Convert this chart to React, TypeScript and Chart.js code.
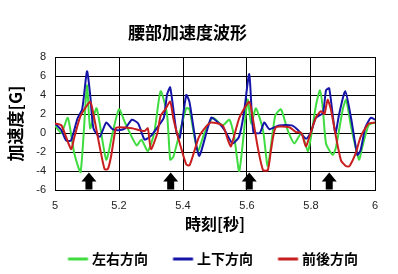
import React, { useEffect, useRef } from "react";
import { Chart, registerables } from "chart.js";

Chart.register(...registerables);

const chartTitle = "腰部加速度波形";
const xTitle = "時刻[秒]";
const yTitle = "加速度[G]";
const seriesNames = ["左右方向", "上下方向", "前後方向"];
const seriesColors = ["#3fdc3f", "#1414a8", "#c81e1e"];

// 左右方向 (green)
const greenT = [5.00, 5.02, 5.04, 5.06, 5.08, 5.10, 5.11, 5.13, 5.16, 5.18, 5.20, 5.22, 5.255, 5.27, 5.29, 5.31, 5.33, 5.35, 5.36, 5.37, 5.41, 5.42, 5.446, 5.467, 5.493, 5.524, 5.545, 5.56, 5.576, 5.602, 5.613, 5.628, 5.65, 5.665, 5.688, 5.706, 5.727, 5.748, 5.77, 5.79, 5.80, 5.816, 5.828, 5.837, 5.847, 5.868, 5.878, 5.90, 5.91, 5.925, 5.95, 5.96, 5.98, 6.00];
const greenV = [0.8, 0.0, 1.6, -2.1, -4.1, 5.0, 0.5, 2.6, -2.8, 0.0, 2.5, 1.0, -1.3, -0.7, -1.9, 0.0, 4.4, 2.0, -2.8, -2.5, 2.6, 2.5, -1.9, 0.0, 1.6, 0.8, 1.4, -0.4, -4.0, 3.5, 1.0, 2.6, 0.3, -3.5, 1.8, 2.5, 0.3, -1.1, 0.0, -1.9, -0.4, 3.0, 4.5, 2.6, -1.1, -2.3, -1.5, 2.6, 3.5, 0.7, -2.8, -1.5, 0.8, 1.1];

// 上下方向 (blue)
const blueT = [5.00, 5.02, 5.035, 5.05, 5.07, 5.085, 5.10, 5.11, 5.12, 5.14, 5.16, 5.18, 5.20, 5.22, 5.24, 5.26, 5.28, 5.30, 5.32, 5.34, 5.35, 5.36, 5.38, 5.39, 5.41, 5.42, 5.45, 5.488, 5.51, 5.53, 5.555, 5.575, 5.59, 5.607, 5.62, 5.64, 5.654, 5.67, 5.70, 5.74, 5.76, 5.785, 5.80, 5.815, 5.837, 5.847, 5.857, 5.876, 5.888, 5.907, 5.925, 5.945, 5.955, 5.97, 5.987, 6.00];
const blueV = [1.0, 0.3, -0.8, -0.8, 1.5, 2.5, 6.5, 4.0, 0.5, -0.4, 1.1, 0.4, 0.3, 0.5, 1.4, 1.0, -0.7, -0.3, 0.6, 1.6, 4.0, 4.8, 0.0, -0.5, 4.0, 3.3, -2.4, 1.6, 1.1, 0.3, -1.1, -0.4, 2.0, 6.2, 0.1, 0.0, 1.1, 0.4, 0.8, 0.8, 0.3, -0.6, 0.1, 1.6, 2.1, 4.5, 4.7, 0.0, 2.0, 4.4, 1.6, -2.3, -1.8, 0.6, 1.6, 1.4];

// 前後方向 (red)
const redT = [5.00, 5.02, 5.05, 5.06, 5.08, 5.11, 5.12, 5.14, 5.155, 5.165, 5.175, 5.19, 5.20, 5.24, 5.28, 5.29, 5.30, 5.32, 5.33, 5.345, 5.36, 5.37, 5.385, 5.41, 5.42, 5.43, 5.45, 5.47, 5.488, 5.524, 5.54, 5.55, 5.576, 5.607, 5.617, 5.633, 5.65, 5.665, 5.675, 5.69, 5.732, 5.753, 5.77, 5.784, 5.795, 5.815, 5.831, 5.842, 5.852, 5.862, 5.878, 5.894, 5.91, 5.92, 5.94, 5.955, 5.98, 6.00];
const redV = [1.0, 0.8, -1.7, -0.5, 1.8, 3.3, 2.0, -1.5, -3.8, -3.8, -2.5, 0.5, 0.6, 0.5, 0.2, 0.5, -1.7, 0.0, 1.8, 2.5, 3.3, 1.5, -0.5, -3.3, -3.4, -2.5, -0.4, 0.6, 1.1, 0.8, -0.7, -1.4, 1.6, 3.3, 1.8, -1.4, -3.9, -3.9, -1.8, 0.6, 0.6, 0.1, 0.0, -1.4, -0.4, 1.6, 2.3, 2.0, 3.5, 2.5, -0.4, -2.9, -3.5, -3.5, -2.1, -0.4, 1.0, 1.1];

// arrow markers (time of each arrow, and the value its tip points at)
const arrowTimes = [5.106, 5.3615, 5.607, 5.857];
const arrowTipValue = -4.15;

const xMin = 5;
const xMax = 6;
const xStep = 0.2;
const yMin = -6;
const yMax = 8;
const yStep = 2;

// legend swatch: a short line placed to the right of an empty lead-in
function legendImage(color: string): HTMLCanvasElement {
  const c = document.createElement("canvas");
  c.width = 48;
  c.height = 4;
  const ctx = c.getContext("2d")!;
  ctx.strokeStyle = color;
  ctx.lineWidth = 3;
  ctx.beginPath();
  ctx.moveTo(19.5, 2);
  ctx.lineTo(39.5, 2);
  ctx.stroke();
  return c;
}

const arrowPlugin = {
  id: "arrows",
  afterDatasetsDraw(chart: any) {
    const { ctx, scales } = chart;
    const yTip = scales.y.getPixelForValue(arrowTipValue);
    ctx.save();
    ctx.fillStyle = "#000";
    arrowTimes.forEach((t) => {
      const x = scales.x.getPixelForValue(t);
      const headW = 15, headH = 9, stemW = 7, stemH = 8;
      ctx.beginPath();
      ctx.moveTo(x, yTip);
      ctx.lineTo(x + headW / 2, yTip + headH);
      ctx.lineTo(x + stemW / 2, yTip + headH);
      ctx.lineTo(x + stemW / 2, yTip + headH + stemH);
      ctx.lineTo(x - stemW / 2, yTip + headH + stemH);
      ctx.lineTo(x - stemW / 2, yTip + headH);
      ctx.lineTo(x - headW / 2, yTip + headH);
      ctx.closePath();
      ctx.fill();
    });
    ctx.restore();
  },
};

const bgPlugin = {
  id: "bg",
  beforeDraw(chart: any) {
    const { ctx, width, height } = chart;
    ctx.save();
    ctx.fillStyle = "#fff";
    ctx.fillRect(0, 0, width, height);
    ctx.restore();
  },
};

export default function App() {
  const ref = useRef<HTMLCanvasElement>(null);

  useEffect(() => {
    document.body.style.margin = "0";
    const cjk = "'Noto Sans CJK JP', sans-serif";
    const latin = "'Liberation Sans', Arial, sans-serif";
    const series = [
      { t: greenT, v: greenV, order: 3 },
      { t: blueT, v: blueV, order: 2 },
      { t: redT, v: redV, order: 1 },
    ];
    const chart = new Chart(ref.current!, {
      type: "line",
      data: {
        datasets: series.map((s, i) => ({
          label: seriesNames[i],
          data: s.t.map((t, j) => ({ x: t, y: s.v[j] })),
          borderColor: seriesColors[i],
          backgroundColor: seriesColors[i],
          borderWidth: 2,
          pointRadius: 0,
          tension: 0.2,
          order: s.order,
          pointStyle: legendImage(seriesColors[i]) as any,
        })),
      },
      options: {
        responsive: false,
        animation: false,
        devicePixelRatio: 1,
        layout: { padding: { left: 0, right: 23, top: 0, bottom: -2 } },
        plugins: {
          title: {
            display: true,
            text: chartTitle,
            color: "#000",
            font: { family: cjk, size: 17, weight: "bold" },
            padding: { top: 22, bottom: 14.6 },
          },
          legend: {
            position: "bottom",
            align: "end",
            labels: {
              usePointStyle: true,
              pointStyleWidth: 25,
              color: "#000",
              font: { family: cjk, size: 14, weight: "bold" },
              padding: 17,
              sort: (a: any, b: any) => a.datasetIndex - b.datasetIndex,
            },
          },
          tooltip: { enabled: false },
        },
        scales: {
          x: {
            type: "linear",
            min: xMin,
            max: xMax,
            afterFit: (s: any) => {
              s.height = 45;
            },
            ticks: {
              stepSize: xStep,
              padding: 9,
              color: "#222",
              font: { family: latin, size: 11 },
              callback: (v: any) => String(Number(Number(v).toFixed(1))),
            },
            grid: { color: "#000", lineWidth: 1, drawTicks: false },
            border: { color: "#000", width: 1 },
            title: {
              display: true,
              text: xTitle,
              color: "#000",
              font: { family: cjk, size: 16, weight: "bold" },
              padding: { top: 0, bottom: 1 },
            },
          },
          y: {
            type: "linear",
            min: yMin,
            max: yMax,
            afterFit: (s: any) => {
              s.width = 55;
            },
            ticks: {
              stepSize: yStep,
              padding: 9,
              color: "#222",
              font: { family: latin, size: 11 },
            },
            grid: { color: "#000", lineWidth: 1, drawTicks: false },
            border: { color: "#000", width: 1 },
            title: {
              display: true,
              text: yTitle,
              color: "#000",
              font: { family: cjk, size: 17, weight: "bold" },
              padding: { top: 5, bottom: 0 },
            },
          },
        },
      },
      plugins: [bgPlugin, arrowPlugin],
    });
    return () => chart.destroy();
  }, []);

  return <canvas ref={ref} width={398} height={274} style={{ display: "block" }} />;
}
